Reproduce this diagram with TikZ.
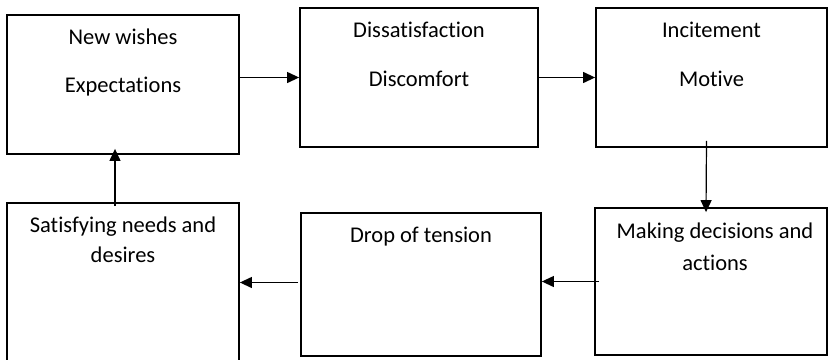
\documentclass[tikz,border=0pt]{standalone}
\usepackage{fontspec}
\setmainfont{Carlito}[Ligatures={NoCommon,NoRequired,NoContextual}, Contextuals=NoAlternate]
\usetikzlibrary{arrows.meta, positioning}

\tikzset{
    stage/.style={draw, line width=0.9pt, inner sep=0pt, minimum width=116pt, minimum height=69.5pt},
    word/.style={anchor=base, inner sep=0pt, font=\fontsize{11.25}{13.5}\selectfont},
    flow/.style={-{Triangle[length=6pt, width=5.5pt]}, line width=0.6pt}
}

\begin{document}
\begin{tikzpicture}[x=0.5pt, y=-0.5pt]
    \useasboundingbox (0,0) rectangle (828,359);

    % upper row
    \node[stage] (wishes) at (123,84.5) {};
    \node[stage, minimum width=119pt] (dissat) at (419,77.5) {};
    \node[stage, minimum width=115.5pt] (incite) at (711.5,77.5) {};
    % lower row
    \node[stage, minimum height=79.5pt] (satisfy) at (123,282.5) {};
    \node[stage, minimum width=120pt, minimum height=71.5pt] (drop) at (421,284.5) {};
    \node[stage, minimum height=73.5pt] (decide) at (711,281.5) {};

    \node[word] (wishesA) at ([yshift=-15pt]wishes.north) {New wishes};
    \node[word] (wishesB) at ([yshift=-24pt]wishesA.base) {Expectations};
    \node[word] (dissatA) at ([yshift=-15pt]dissat.north) {Dissatisfaction};
    \node[word] (dissatB) at ([yshift=-24.5pt]dissatA.base) {Discomfort};
    \node[word] (inciteA) at ([yshift=-15pt]incite.north) {Incitement};
    \node[word] (inciteB) at ([yshift=-24.5pt]inciteA.base) {Motive};
    \node[word] (satisfyA) at ([yshift=-15pt]satisfy.north) {Satisfying needs and};
    \node[word] (satisfyB) at ([yshift=-15pt]satisfyA.base) {desires};
    \node[word] (dropA) at ([yshift=-15pt]drop.north) {Drop of tension};
    \node[word] (decideA) at ([xshift=2pt, yshift=-15.5pt]decide.north) {Making decisions and};
    \node[word] (decideB) at ([yshift=-16pt]decideA.base) {actions};

    \draw[flow] (wishes.east |- dissat.west) -- (dissat.west);
    \draw[flow] (dissat.east) -- (incite.west);
    \draw[flow] ([xshift=-2.5pt, yshift=3.5pt]incite.south) -- ([xshift=-2.5pt, yshift=-2.5pt]decide.north);
    \draw[flow] ([xshift=2.5pt]decide.west) -- (drop.east |- decide.west);
    \draw[flow] ([xshift=-1pt]drop.west |- satisfy.east) -- (satisfy.east);
    \draw[flow] ([xshift=-4pt, yshift=-2pt]satisfy.north) -- ([xshift=-4pt, yshift=3pt]wishes.south);
\end{tikzpicture}
\end{document}
